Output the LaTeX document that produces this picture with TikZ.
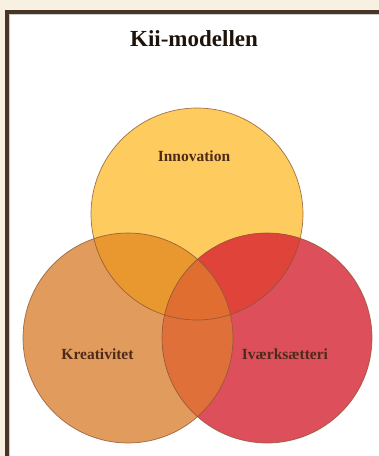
\documentclass[tikz,border=0pt]{standalone}
\usepackage{fontspec}
\setmainfont{Liberation Serif}
\definecolor{bgcream}{HTML}{F8F1E1}
\definecolor{framebrown}{HTML}{4A3427}
\definecolor{topc}{HTML}{FECB5E}
\definecolor{leftc}{HTML}{E19B5C}
\definecolor{rightc}{HTML}{DD4F5B}
\definecolor{tlc}{HTML}{E9982F}
\definecolor{trc}{HTML}{E0433A}
\definecolor{lrc}{HTML}{E0703A}
\definecolor{allc}{HTML}{DF6E30}
\definecolor{edgec}{HTML}{8A5533}
\definecolor{textc}{HTML}{4E2A1A}
\tikzset{
  ring/.style={draw=edgec, line width=0.7pt, draw opacity=0.8},
  lbl/.style={text=textc, font=\bfseries\fontsize{15.5}{18}\selectfont, inner sep=0pt},
  ttl/.style={text=black!85!brown, font=\bfseries\fontsize{23}{27}\selectfont, inner sep=0pt}
}
\begin{document}
\begin{tikzpicture}[x=1pt,y=-1pt]
\useasboundingbox (0,0) rectangle (379,456);
\fill[bgcream] (0,0) rectangle (379,456);
\fill[white] (7,11.5) rectangle (385,462);
\draw[framebrown, line width=4pt] (7,462) -- (7,11.5) -- (385,11.5);
\draw[black!20, line width=0.6pt] (9.6,462) -- (9.6,13.8) -- (385,13.8);
\node[ttl] (title) at (194,39) {Kii-modellen};
% regions
\coordinate (ct) at (197,214);
\coordinate (cl) at (128,338);
\coordinate (cr) at (267,338);
\fill[topc] (ct) circle (106);
\fill[leftc] (cl) circle (105);
\fill[rightc] (cr) circle (105);
\begin{scope}
  \clip (ct) circle (106);
  \fill[tlc] (cl) circle (105);
  \fill[trc] (cr) circle (105);
\end{scope}
\begin{scope}
  \clip (cl) circle (105);
  \fill[lrc] (cr) circle (105);
  \clip (cr) circle (105);
  \fill[allc] (ct) circle (106);
\end{scope}
\draw[ring] (ct) circle (106);
\draw[ring] (cl) circle (105);
\draw[ring] (cr) circle (105);
\node[lbl] (inno) at (194,156) {Innovation};
\node[lbl] (krea) at (97.5,354) {Kreativitet};
\node[lbl] (ivae) at (285,354) {Iværksætteri};
\end{tikzpicture}
\end{document}
